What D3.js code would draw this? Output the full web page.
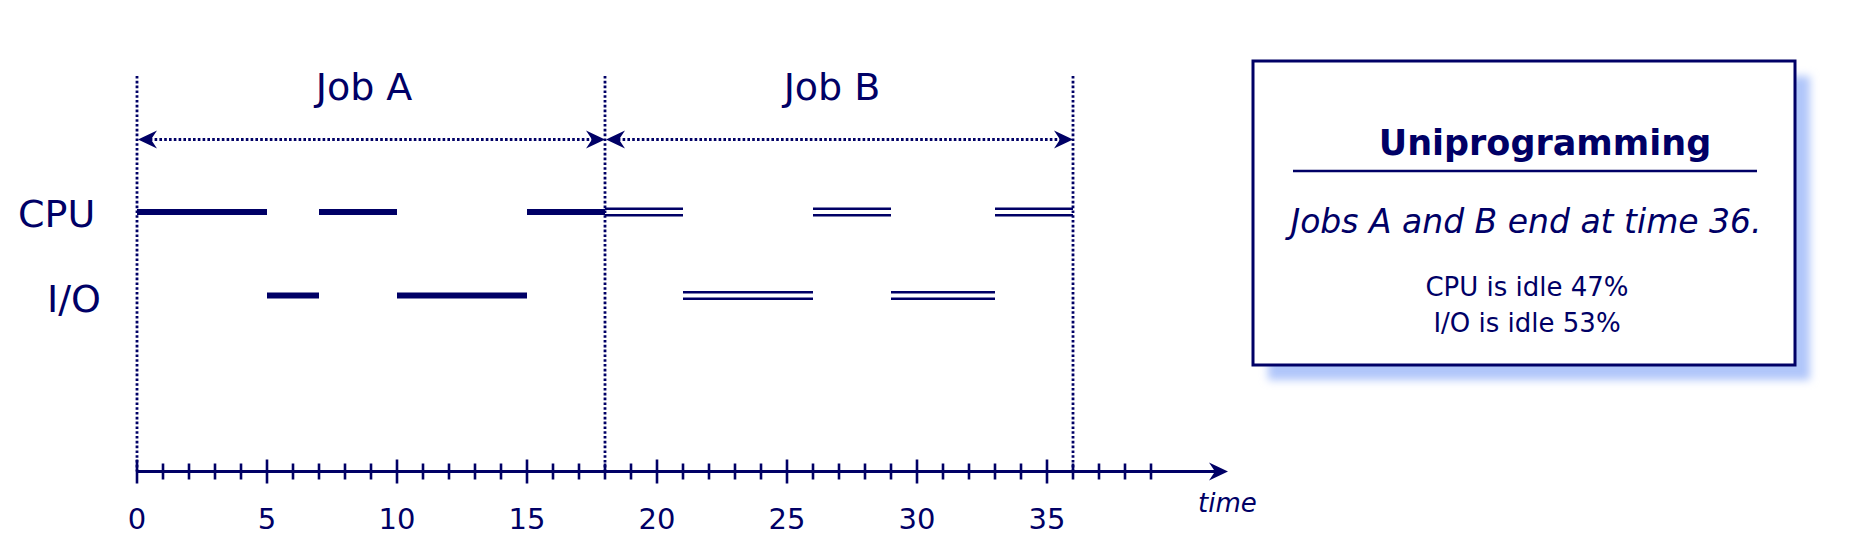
<!DOCTYPE html>
<html>
<head>
<meta charset="utf-8">
<script src="https://cdn.jsdelivr.net/npm/d3@7"></script>
<style>
  body { margin: 0; background: #fff; }
  svg { display: block; font-family: "DejaVu Sans", sans-serif; }
</style>
</head>
<body>
<svg id="chart" width="1854" height="538"></svg>
<script>

// time spans (start, end) per resource
var rows = ["CPU", "I/O"];
var cpuA = [[0, 5], [7, 10], [15, 18]];
var ioA = [[5, 7], [10, 15]];
var cpuB = [[18, 21], [26, 29], [33, 36]];
var ioB = [[21, 26], [29, 33]];

var jobs = ["Job A", "Job B"];
var jobStart = [0, 18];
var jobEnd = [18, 36];

var minorTicks = d3.range(0, 40);
var majorTicks = [0, 5, 10, 15, 20, 25, 30, 35];

var boxTitle = "Uniprogramming";
var boxLines = ["Jobs A and B end at time 36.", "CPU is idle 47%", "I/O is idle 53%"];

var navy = "#000066";

var svg = d3.select("svg#chart");

var x = d3.scaleLinear().domain([0, 36]).range([137, 1073]);
var y = d3.scalePoint().domain(rows).range([212, 295.5]);
var axisY = 471.5;

// arrow head shape, tip at 0,0 pointing right
var head = "M0,0 L-19,-9 L-13,0 L-19,9 Z";

// vertical dotted job boundaries
var bounds = [0, 18, 36];
svg.selectAll(".bound")
  .data(bounds)
  .enter().append("line")
  .attr("class", "bound")
  .attr("x1", function(d) { return x(d); })
  .attr("x2", function(d) { return x(d); })
  .attr("y1", 76)
  .attr("y2", axisY)
  .attr("stroke", navy)
  .attr("stroke-width", 2.8)
  .attr("stroke-dasharray", "2.6,2.2");

// job span arrows
var arrowY = 139.5;
jobs.forEach(function(name, i) {
  var x0 = x(jobStart[i]), x1 = x(jobEnd[i]);

  svg.append("line")
    .attr("x1", x0 + 8)
    .attr("x2", x1 - 8)
    .attr("y1", arrowY)
    .attr("y2", arrowY)
    .attr("stroke", navy)
    .attr("stroke-width", 2.8)
    .attr("stroke-dasharray", "2.6,2.2");

  svg.append("path")
    .attr("d", head)
    .attr("fill", navy)
    .attr("transform", "translate(" + x1 + "," + arrowY + ")");

  svg.append("path")
    .attr("d", head)
    .attr("fill", navy)
    .attr("transform", "translate(" + (x0 + 1) + "," + arrowY + ") rotate(180)");

  svg.append("text")
    .attr("x", (x0 + x1) / 2 - 7)
    .attr("y", 100)
    .attr("text-anchor", "middle")
    .attr("font-size", 38)
    .attr("fill", navy)
    .text(name);
});

// row labels
svg.append("text")
  .attr("x", 18).attr("y", y("CPU") + 15)
  .attr("font-size", 38).attr("fill", navy)
  .text("CPU");
svg.append("text")
  .attr("x", 47).attr("y", y("I/O") + 16)
  .attr("font-size", 38).attr("fill", navy)
  .text("I/O");

// job A: solid bars
var solid = function(data, row) {
  svg.selectAll(null)
    .data(data)
    .enter().append("line")
    .attr("x1", function(d) { return x(d[0]); })
    .attr("x2", function(d) { return x(d[1]); })
    .attr("y1", y(row))
    .attr("y2", y(row))
    .attr("stroke", navy)
    .attr("stroke-width", 6);
};

// job B: double lines
var hollow = function(data, row) {
  [-3.3, 3.3].forEach(function(off) {
    svg.selectAll(null)
      .data(data)
      .enter().append("line")
      .attr("x1", function(d) { return x(d[0]); })
      .attr("x2", function(d) { return x(d[1]); })
      .attr("y1", y(row) + off)
      .attr("y2", y(row) + off)
      .attr("stroke", navy)
      .attr("stroke-width", 2.4);
  });
};

solid(cpuA, "CPU");
solid(ioA, "I/O");
hollow(cpuB, "CPU");
hollow(ioB, "I/O");

// time axis
var axisEnd = 1228;
svg.append("line")
  .attr("x1", x(0)).attr("x2", axisEnd - 12)
  .attr("y1", axisY).attr("y2", axisY)
  .attr("stroke", navy).attr("stroke-width", 3);

svg.append("path")
  .attr("d", head)
  .attr("fill", navy)
  .attr("transform", "translate(" + axisEnd + "," + axisY + ")");

svg.selectAll(".tick")
  .data(minorTicks)
  .enter().append("line")
  .attr("class", "tick")
  .attr("x1", function(d) { return x(d); })
  .attr("x2", function(d) { return x(d); })
  .attr("y1", function(d) { return axisY - (d % 5 == 0 ? 12 : 8); })
  .attr("y2", function(d) { return axisY + (d % 5 == 0 ? 12 : 8); })
  .attr("stroke", navy)
  .attr("stroke-width", 2.6);

svg.selectAll(".tlabel")
  .data(majorTicks)
  .enter().append("text")
  .attr("class", "tlabel")
  .attr("x", function(d) { return x(d); })
  .attr("y", 529)
  .attr("text-anchor", "middle")
  .attr("font-size", 29)
  .attr("fill", navy)
  .text(function(d) { return d; });

svg.append("text")
  .attr("x", 1198).attr("y", 512)
  .attr("font-size", 26)
  .attr("font-style", "italic")
  .attr("fill", navy)
  .text("time");

// summary box with soft blue shadow
var defs = svg.append("defs");
defs.append("filter")
  .attr("id", "blur")
  .attr("x", "-10%").attr("y", "-10%")
  .attr("width", "120%").attr("height", "120%")
  .append("feGaussianBlur")
  .attr("stdDeviation", 4);

var bx = 1253, by = 61, bw = 542, bh = 304;

svg.append("rect")
  .attr("x", bx + 15).attr("y", by + 15)
  .attr("width", bw).attr("height", bh)
  .attr("fill", "#b0c6fa")
  .attr("filter", "url(#blur)");

svg.append("rect")
  .attr("x", bx).attr("y", by)
  .attr("width", bw).attr("height", bh)
  .attr("fill", "#fff")
  .attr("stroke", navy)
  .attr("stroke-width", 3);

svg.append("text")
  .attr("x", 1545).attr("y", 155)
  .attr("text-anchor", "middle")
  .attr("font-size", 35)
  .attr("font-weight", "bold")
  .attr("fill", navy)
  .text(boxTitle);

svg.append("line")
  .attr("x1", 1293).attr("x2", 1757)
  .attr("y1", 171).attr("y2", 171)
  .attr("stroke", navy).attr("stroke-width", 2.5);

svg.append("text")
  .attr("x", 1526).attr("y", 233)
  .attr("text-anchor", "middle")
  .attr("font-size", 33)
  .attr("font-style", "italic")
  .attr("fill", navy)
  .text(boxLines[0]);

svg.selectAll(".stat")
  .data(boxLines.slice(1))
  .enter().append("text")
  .attr("class", "stat")
  .attr("x", 1527)
  .attr("y", function(d, i) { return 296 + i * 35.5; })
  .attr("text-anchor", "middle")
  .attr("font-size", 26)
  .attr("fill", navy)
  .text(function(d) { return d; });

</script>
</body>
</html>
